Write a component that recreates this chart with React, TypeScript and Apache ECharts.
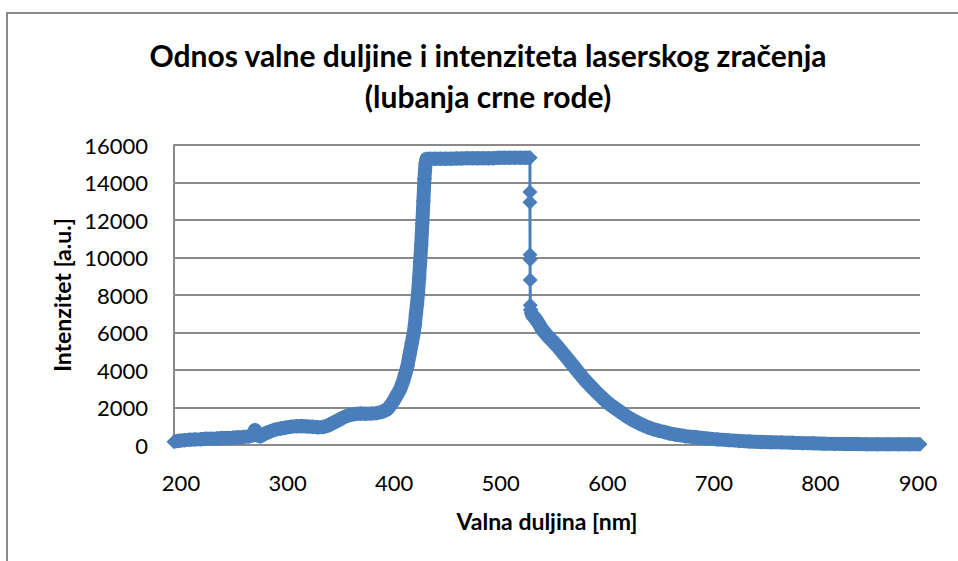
import React, { useEffect, useRef } from "react";
import * as echarts from "echarts";

const titleLines = ["Odnos valne duljine i intenziteta laserskog zračenja", "(lubanja crne rode)"];
const xAxisName = "Valna duljina [nm]";
const yAxisName = "Intenzitet [a.u.]";

// Rising part and plateau (nm, a.u.)
const riseWl = [
  200, 205, 210, 215, 220, 225, 230, 235, 240, 245, 250, 255, 260, 265, 270, 274, 276, 278, 281, 285,
  290, 295, 300, 305, 310, 315, 320, 325, 330, 335, 340, 345, 350, 355, 360, 365, 370, 375, 380, 385,
  390, 395, 400, 403, 406, 409, 412, 415, 417, 419, 421, 423, 425, 426, 427, 428, 429, 430, 431, 432,
  433, 434, 435, 436, 437, 440, 445, 450, 455, 460, 465, 470, 475, 480, 485, 490, 495, 500, 505, 510,
  515, 520, 525, 530, 534,
];
const riseVal = [
  180, 230, 260, 280, 300, 310, 330, 340, 350, 370, 380, 390, 410, 430, 460, 520, 800, 520, 460, 600,
  720, 820, 880, 930, 980, 1000, 1010, 990, 970, 950, 960, 1050, 1200, 1350, 1500, 1600, 1650, 1680, 1670, 1680,
  1700, 1760, 1900, 2100, 2350, 2650, 2950, 3400, 3800, 4200, 4800, 5400, 6000, 6400, 7000, 7500, 8100, 8900, 9800, 10700,
  11800, 13000, 14200, 15000, 15250, 15270, 15270, 15270, 15270, 15270, 15280, 15280, 15300, 15300, 15300, 15300, 15300, 15300, 15320, 15320,
  15320, 15320, 15320, 15320, 15320,
];
// Sharp drop at the plateau's right edge
const dropWl = [534, 534, 534.1, 534.1, 534.2, 534.3];
const dropVal = [13500, 12950, 10150, 9900, 8800, 7450];
// Decaying tail
const tailWl = [
  534.5, 536, 539, 542, 545, 550, 555, 560, 565, 570, 575, 580, 585, 590, 595, 600, 605, 610, 615, 620,
  625, 630, 635, 640, 645, 650, 655, 660, 665, 670, 680, 690, 700, 710, 720, 730, 740, 750, 760, 770,
  780, 790, 800, 810, 820, 830, 840, 850, 860, 870, 880, 890, 900,
];
const tailVal = [
  7200, 6950, 6750, 6500, 6200, 5850, 5550, 5250, 4900, 4550, 4200, 3850, 3500, 3200, 2900, 2620, 2350, 2120, 1920, 1720,
  1520, 1350, 1200, 1060, 940, 840, 760, 690, 620, 560, 470, 410, 350, 300, 260, 220, 190, 160, 150, 140,
  120, 100, 90, 70, 60, 50, 50, 45, 45, 40, 40, 40, 40,
];

const BLUE = "#4A7EBB";
const GRID = "#8a8a8a";
const FONT = "Lato";

const zip = (xs: number[], ys: number[]) => xs.map((x, i) => [x, ys[i]]);

export default function App() {
  const ref = useRef<HTMLDivElement>(null);
  useEffect(() => {
    if (!ref.current) return;
    const chart = echarts.init(ref.current, null, { renderer: "svg" });
    const rise = zip(riseWl, riseVal);
    const tail = zip(tailWl, tailVal);
    const drop = [rise[rise.length - 1], ...zip(dropWl, dropVal), tail[0]];
    const base = {
      type: "line",
      symbol: "diamond",
      symbolSize: 15,
      itemStyle: { color: BLUE },
      emphasis: { disabled: true },
      silent: true,
    };
    chart.setOption({
      animation: false,
      title: {
        text: titleLines.join("\n"),
        left: 488,
        top: 34,
        textAlign: "center",
        padding: 0,
        textStyle: { fontFamily: FONT, fontSize: 30, fontWeight: "bold", color: "#000", lineHeight: 41 },
      },
      graphic: [
        {
          type: "rect",
          shape: { x: 7, y: 13, width: 1000, height: 700 },
          style: { fill: "none", stroke: GRID, lineWidth: 2 },
          silent: true,
        },
      ],
      grid: { left: 174, right: 38, top: 145, bottom: 116 },
      xAxis: {
        type: "value",
        min: 200,
        max: 900,
        interval: 100,
        name: xAxisName,
        nameLocation: "middle",
        nameGap: 64,
        nameTextStyle: { fontFamily: FONT, fontSize: 23, fontWeight: "bold", color: "#000" },
        axisLine: { show: true, lineStyle: { color: GRID, width: 2 } },
        axisTick: { show: false },
        splitLine: { show: false },
        axisLabel: {
          margin: 26,
          fontFamily: FONT,
          fontSize: 22,
          color: "#000",
          formatter: (v: number) => (v === 900 ? `{e|${v}}` : `{n|${v}}`),
          rich: {
            n: { fontFamily: FONT, fontSize: 22, color: "#000", padding: [0, 0, 0, 14] },
            e: { fontFamily: FONT, fontSize: 22, color: "#000", padding: [0, 4, 0, 0] },
          },
        },
      },
      yAxis: {
        type: "value",
        min: 0,
        max: 16000,
        interval: 2000,
        name: yAxisName,
        nameLocation: "middle",
        nameRotate: 90,
        nameGap: 100,
        nameTextStyle: { fontFamily: FONT, fontSize: 23, fontWeight: "bold", color: "#000" },
        axisLine: { show: true, lineStyle: { color: GRID, width: 2 } },
        axisTick: { show: false },
        splitLine: { show: true, lineStyle: { color: GRID, width: 2 } },
        axisLabel: { margin: 26, fontFamily: FONT, fontSize: 22, color: "#000", formatter: (v: number) => String(v) },
      },
      series: [
        { ...base, name: "rise", data: rise, lineStyle: { color: BLUE, width: 14, join: "round" } },
        { ...base, name: "drop", data: drop, lineStyle: { color: BLUE, width: 3 } },
        { ...base, name: "tail", data: tail, lineStyle: { color: BLUE, width: 14, join: "round" } },
      ],
    });
    return () => chart.dispose();
  }, []);
  return <div ref={ref} style={{ position: "fixed", left: 0, top: 0, width: 958, height: 561, background: "#fff" }} />;
}
